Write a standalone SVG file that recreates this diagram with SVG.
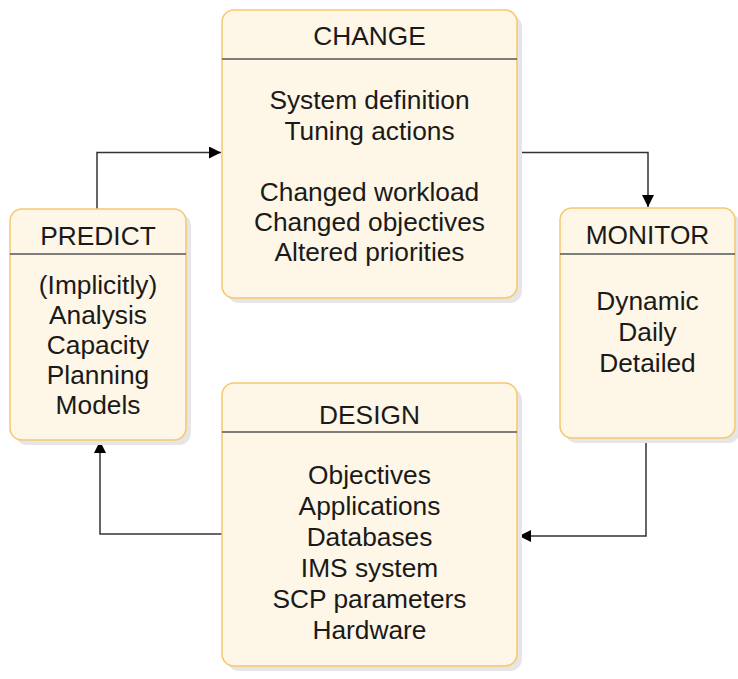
<svg xmlns="http://www.w3.org/2000/svg" width="738" height="679" viewBox="0 0 738 679">
<defs>
<style>
.shadow{fill:#e6e6e6;stroke:none}
.box{fill:#fef6e6;stroke:#f7c66f;stroke-width:1.5}
.div{stroke:#555;stroke-width:1.5}
.t{font-family:"Liberation Sans",Arial,sans-serif;font-size:26.3px;fill:#1a1a1a;text-anchor:middle}
.conn{fill:none;stroke:#333;stroke-width:1.5}
</style>
<marker id="arr" markerUnits="userSpaceOnUse" markerWidth="13" markerHeight="12" refX="12" refY="6" orient="auto">
<path d="M0,0 L12,6 L0,12 Z" fill="#000"/>
</marker>
</defs>
<rect width="738" height="679" fill="#fff"/>
<g id="connectors">
<path class="conn" d="M97,209 V152.5 H221" marker-end="url(#arr)"/>
<path class="conn" d="M517,152.5 H648 V207" marker-end="url(#arr)"/>
<path class="conn" d="M646,438 V536 H519" marker-end="url(#arr)"/>
<path class="conn" d="M222,534 H100 V441" marker-end="url(#arr)"/>
</g>
<g id="change">
<rect class="shadow" x="227" y="15" width="295" height="288" rx="12"/>
<rect class="box" x="222" y="10" width="295" height="288" rx="12"/>
<line class="div" x1="222" y1="59" x2="517" y2="59"/>
<text class="t" x="369.5" y="45">CHANGE</text>
<text class="t" x="369.5" y="109">System definition</text>
<text class="t" x="369.5" y="139.5">Tuning actions</text>
<text class="t" x="369.5" y="200.5">Changed workload</text>
<text class="t" x="369.5" y="230.5">Changed objectives</text>
<text class="t" x="369.5" y="261">Altered priorities</text>
</g>
<g id="predict">
<rect class="shadow" x="15" y="214" width="176" height="231" rx="12"/>
<rect class="box" x="10" y="209" width="176" height="231" rx="12"/>
<line class="div" x1="10" y1="254" x2="186" y2="254"/>
<text class="t" x="98" y="245">PREDICT</text>
<text class="t" x="98" y="293.5">(Implicitly)</text>
<text class="t" x="98" y="323.5">Analysis</text>
<text class="t" x="98" y="354">Capacity</text>
<text class="t" x="98" y="384">Planning</text>
<text class="t" x="98" y="414">Models</text>
</g>
<g id="monitor">
<rect class="shadow" x="565" y="213" width="175" height="230" rx="12"/>
<rect class="box" x="560" y="208" width="175" height="230" rx="12"/>
<line class="div" x1="560" y1="254" x2="735" y2="254"/>
<text class="t" x="647.5" y="244">MONITOR</text>
<text class="t" x="647.5" y="310">Dynamic</text>
<text class="t" x="647.5" y="341">Daily</text>
<text class="t" x="647.5" y="372">Detailed</text>
</g>
<g id="design">
<rect class="shadow" x="227" y="388" width="295" height="283" rx="12"/>
<rect class="box" x="222" y="383" width="295" height="283" rx="12"/>
<line class="div" x1="222" y1="432" x2="517" y2="432"/>
<text class="t" x="369.5" y="423.5">DESIGN</text>
<text class="t" x="369.5" y="484">Objectives</text>
<text class="t" x="369.5" y="515">Applications</text>
<text class="t" x="369.5" y="546">Databases</text>
<text class="t" x="369.5" y="577">IMS system</text>
<text class="t" x="369.5" y="608">SCP parameters</text>
<text class="t" x="369.5" y="639">Hardware</text>
</g>
</svg>
